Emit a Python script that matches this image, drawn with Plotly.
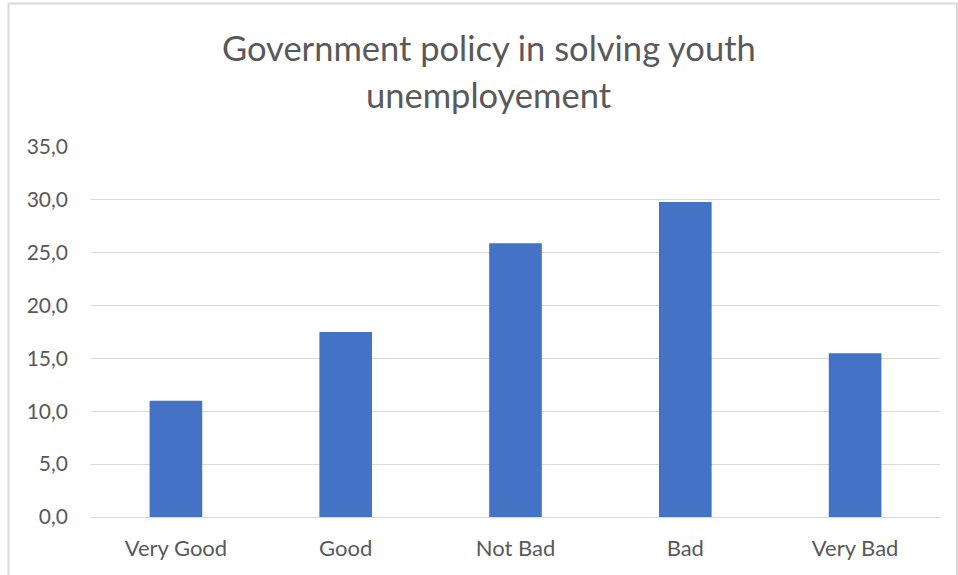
import plotly.graph_objects as go

categories = ["Very Good", "Good", "Not Bad", "Bad", "Very Bad"]
values = [11.0, 17.5, 25.9, 29.8, 15.5]
tick_vals = [0, 5, 10, 15, 20, 25, 30, 35]
tick_text = ["0,0", "5,0", "10,0", "15,0", "20,0", "25,0", "30,0", "35,0"]
title_lines = ["Government policy in solving youth", "unemployement"]

W, H = 958, 575
L, R, T, B = 91, 18, 147, 58
FONT = "Lato"
GREY = "#595959"

fig = go.Figure(go.Bar(x=categories, y=values, marker=dict(color="#4472C4", line=dict(width=0)),
                       hoverinfo="skip"))

pw = W - L - R
ph = H - T - B
def px(x):
    return (x - L) / pw
def py(y):
    return 1 - (y - T) / ph

fig.update_layout(
    width=W, height=H,
    margin=dict(l=L, r=R, t=T, b=B),
    paper_bgcolor="white", plot_bgcolor="white",
    bargap=0.69,
    showlegend=False,
    font=dict(family=FONT, color=GREY),
    xaxis=dict(showgrid=False, showline=True, linecolor="#d9d9d9", linewidth=1,
               tickfont=dict(size=22, color=GREY, family=FONT), ticks="", ticklabelstandoff=12),
    yaxis=dict(range=[0, 35], tickvals=tick_vals, ticktext=tick_text,
               showgrid=True, gridcolor="#d9d9d9", gridwidth=1, zeroline=False,
               showline=False, tickfont=dict(size=21, color=GREY, family=FONT), ticks="",
               ticklabelstandoff=22),
    annotations=[
        dict(text=title_lines[0], xref="paper", yref="paper", x=px(489), y=py(47.5),
             xanchor="center", yanchor="middle", showarrow=False,
             font=dict(size=34.5, color=GREY, family=FONT)),
        dict(text=title_lines[1], xref="paper", yref="paper", x=px(489), y=py(94.5),
             xanchor="center", yanchor="middle", showarrow=False,
             font=dict(size=34.5, color=GREY, family=FONT)),
    ],
    shapes=[dict(type="rect", xref="paper", yref="paper",
                 x0=px(8.5), x1=px(957), y0=py(3.5), y1=py(585),
                 line=dict(color="#d9d9d9", width=2), fillcolor="rgba(0,0,0,0)", layer="below")],
)

fig.write_html("out.html", config={"displayModeBar": False},
               post_script="document.body.style.margin='0';document.body.style.overflow='hidden';")
